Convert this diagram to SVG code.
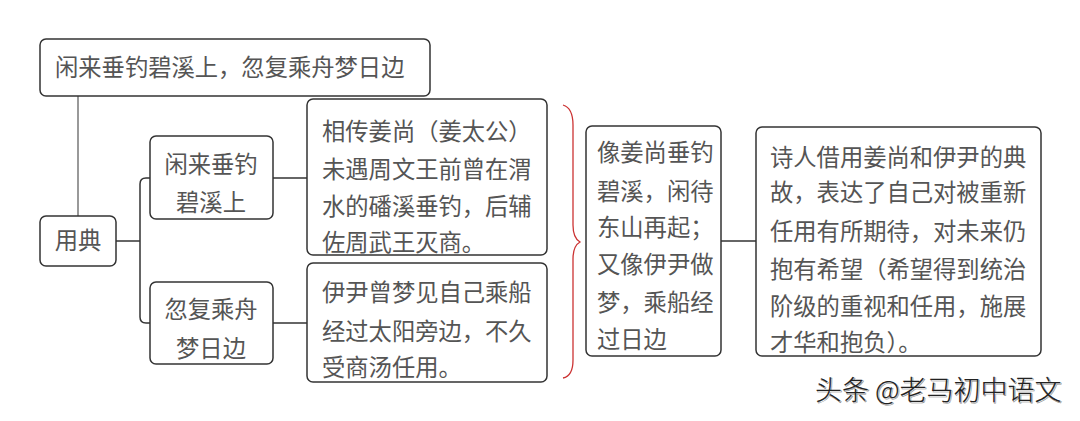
<svg xmlns="http://www.w3.org/2000/svg" width="1080" height="421" viewBox="0 0 1080 421">
<style>
.box{fill:#fff;stroke:#333;stroke-width:1.5}
.t{font-family:"Noto Sans CJK SC","Noto Sans",sans-serif;font-size:23.3px;fill:#555}
.c{fill:none;stroke:#333;stroke-width:1.5}
</style>
<rect width="1080" height="421" fill="#fff"/>
<g id="connectors">
<path class="c" d="M78 96 V216" style="stroke:#777"/>
<path class="c" d="M116 241 H140"/>
<path class="c" d="M150 178 H146 Q140 178 140 184 V317 Q140 323 146 323 H150"/>
<path class="c" d="M273 178 H307"/>
<path class="c" d="M273 323 H307"/>
<path class="c" d="M721 241 H756"/>
<path d="M563 105 Q573 108 573 125 V225 Q573 238 580 242 Q573 246 573 259 V360 Q573 376 563 378" fill="none" stroke="#c33" stroke-width="1.3"/>
</g>
<g id="title">
<rect class="box" x="40" y="39" width="390" height="57" rx="6"/>
<text class="t" x="55" y="76">闲来垂钓碧溪上，忽复乘舟梦日边</text>
</g>
<g id="yongdian">
<rect class="box" x="40" y="216" width="76" height="50" rx="6"/>
<text class="t" x="78" y="249" text-anchor="middle">用典</text>
</g>
<g id="n1">
<rect class="box" x="150" y="136" width="123" height="83" rx="6"/>
<text class="t" x="211" y="173" text-anchor="middle">闲来垂钓</text>
<text class="t" x="211" y="211" text-anchor="middle">碧溪上</text>
</g>
<g id="n2">
<rect class="box" x="150" y="282" width="123" height="82" rx="6"/>
<text class="t" x="211" y="318" text-anchor="middle">忽复乘舟</text>
<text class="t" x="211" y="357" text-anchor="middle">梦日边</text>
</g>
<g id="d1">
<rect class="box" x="307" y="99" width="240" height="156" rx="6"/>
<text class="t" x="322" y="140">相传姜尚（姜太公）</text>
<text class="t" x="322" y="178">未遇周文王前曾在渭</text>
<text class="t" x="322" y="215">水的磻溪垂钓，后辅</text>
<text class="t" x="322" y="251">佐周武王灭商。</text>
</g>
<g id="d2">
<rect class="box" x="307" y="263" width="240" height="119" rx="6"/>
<text class="t" x="322" y="301">伊尹曾梦见自己乘船</text>
<text class="t" x="322" y="340">经过太阳旁边，不久</text>
<text class="t" x="322" y="376">受商汤任用。</text>
</g>
<g id="meaning">
<rect class="box" x="586" y="126" width="135" height="230" rx="6"/>
<text class="t" x="597" y="161">像姜尚垂钓</text>
<text class="t" x="597" y="200">碧溪，闲待</text>
<text class="t" x="597" y="236">东山再起；</text>
<text class="t" x="597" y="273">又像伊尹做</text>
<text class="t" x="597" y="311">梦，乘船经</text>
<text class="t" x="597" y="348">过日边</text>
</g>
<g id="emotion">
<rect class="box" x="756" y="127" width="285" height="229" rx="6"/>
<text class="t" x="770" y="166">诗人借用姜尚和伊尹的典</text>
<text class="t" x="770" y="201">故，表达了自己对被重新</text>
<text class="t" x="770" y="240">任用有所期待，对未来仍</text>
<text class="t" x="770" y="278">抱有希望（希望得到统治</text>
<text class="t" x="770" y="315">阶级的重视和任用，施展</text>
<text class="t" x="770" y="351">才华和抱负）。</text>
</g>
<g id="watermark">
<text x="815" y="400" font-family="'Noto Sans CJK SC',sans-serif" font-size="27" font-weight="300" fill="#fff" stroke="#888" stroke-width="0.6" dx="1" dy="1">头条 @老马初中语文</text>
<text x="815" y="400" font-family="'Noto Sans CJK SC',sans-serif" font-size="27" font-weight="300" fill="#222">头条 @老马初中语文</text>
</g>
</svg>
